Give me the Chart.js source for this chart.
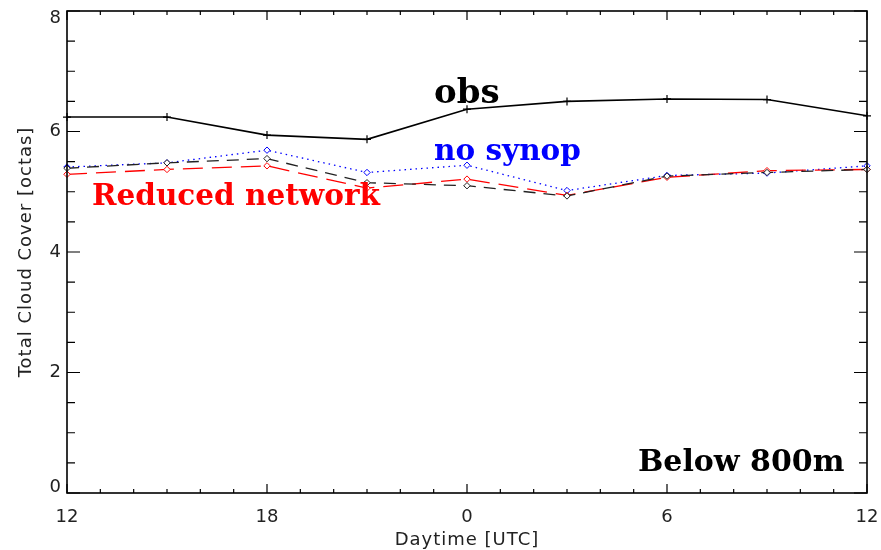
<!DOCTYPE html>
<html>
<head>
<meta charset="utf-8">
<script src="https://cdn.jsdelivr.net/npm/chart.js@4"></script>
<style>
html,body{margin:0;padding:0;background:#fff;}
canvas{display:block;}
</style>
</head>
<body>
<canvas id="c" width="881" height="550"></canvas>
<script>
// ---- data ----
const hours = [12, 15, 18, 21, 24, 27, 30, 33, 36];
const obs = [6.24, 6.24, 5.94, 5.87, 6.37, 6.50, 6.54, 6.53, 6.26];
const noSynop = [5.41, 5.48, 5.69, 5.32, 5.44, 5.02, 5.27, 5.31, 5.43];
const control = [5.39, 5.48, 5.55, 5.15, 5.10, 4.93, 5.26, 5.32, 5.37];
const reduced = [5.29, 5.37, 5.43, 5.06, 5.21, 4.94, 5.24, 5.35, 5.37];

const xTickValues = [12, 18, 24, 30, 36];
const xTickLabels = ['12', '18', '0', '6', '12'];
const yTickValues = [0, 2, 4, 6, 8];
const yTickLabels = ['0', '2', '4', '6', '8'];

const xTitle = 'Daytime [UTC]';
const yTitle = 'Total Cloud Cover [octas]';

const annotations = [
  {text: 'obs', color: '#000', size: 34, x: 434, y: 103},
  {text: 'no synop', color: '#0000ff', size: 29.5, x: 434, y: 160},
  {text: 'Reduced network', color: '#ff0000', size: 29.5, x: 92, y: 205},
  {text: 'Below 800m', color: '#000', size: 30, x: 638, y: 471}
];

const pts = arr => arr.map((v, i) => ({x: hours[i], y: v}));

const axisFont = "18px 'DejaVu Sans'";

const framePlugin = {
  id: 'frame',
  afterDatasetsDraw(chart) {
    const ctx = chart.ctx;
    const a = chart.chartArea;
    const xs = chart.scales.x, ys = chart.scales.y;
    ctx.save();
    ctx.strokeStyle = '#000';
    ctx.lineWidth = 1.6;
    ctx.strokeRect(a.left, a.top, a.right - a.left, a.bottom - a.top);
    ctx.lineWidth = 1.2;
    ctx.beginPath();
    for (let h = 12; h <= 36; h++) {
      const px = xs.getPixelForValue(h);
      const len = (h % 6 === 0) ? 9 : 4;
      ctx.moveTo(px, a.bottom); ctx.lineTo(px, a.bottom - len);
      ctx.moveTo(px, a.top); ctx.lineTo(px, a.top + len);
    }
    for (let k = 0; k <= 16; k++) {
      const v = k * 0.5;
      const py = ys.getPixelForValue(v);
      const len = (k % 4 === 0) ? 13 : 8;
      ctx.moveTo(a.left, py); ctx.lineTo(a.left + len, py);
      ctx.moveTo(a.right, py); ctx.lineTo(a.right - len, py);
    }
    ctx.stroke();

    // tick labels
    ctx.fillStyle = '#222';
    ctx.font = axisFont;
    ctx.textAlign = 'center';
    ctx.textBaseline = 'alphabetic';
    xTickValues.forEach((v, i) => {
      ctx.fillText(xTickLabels[i], xs.getPixelForValue(v), 522);
    });
    ctx.textAlign = 'right';
    ctx.textBaseline = 'middle';
    yTickValues.forEach((v, i) => {
      let py = ys.getPixelForValue(v);
      py = Math.min(Math.max(py, a.top + 7), a.bottom - 6);
      ctx.fillText(yTickLabels[i], 61, py);
    });
    // axis titles
    ctx.letterSpacing = '1px';
    ctx.textAlign = 'center';
    ctx.textBaseline = 'alphabetic';
    ctx.fillText(xTitle, (a.left + a.right) / 2, 545);
    ctx.save();
    ctx.translate(31, 252);
    ctx.rotate(-Math.PI / 2);
    ctx.fillText(yTitle, 0, 0);
    ctx.restore();
    ctx.letterSpacing = '0px';

    // annotations
    ctx.textAlign = 'left';
    ctx.textBaseline = 'alphabetic';
    annotations.forEach(an => {
      ctx.font = "bold " + an.size + "px 'DejaVu Serif'";
      ctx.fillStyle = an.color;
      ctx.fillText(an.text, an.x, an.y);
    });
    ctx.restore();
  }
};

new Chart(document.getElementById('c'), {
  type: 'line',
  data: {
    datasets: [
      {
        label: 'control',
        data: pts(control),
        borderColor: '#222',
        borderWidth: 1.3,
        borderDash: [12, 8],
        pointStyle: 'rectRot',
        pointRadius: 3.2,
        pointBorderWidth: 1,
        pointBorderColor: '#222',
        pointBackgroundColor: '#fff',
        tension: 0,
        clip: false
      },
      {
        label: 'Reduced network',
        data: pts(reduced),
        borderColor: '#ff0000',
        borderWidth: 1.3,
        borderDash: [20, 9],
        pointStyle: 'rectRot',
        pointRadius: 3.2,
        pointBorderWidth: 1,
        pointBorderColor: '#ff0000',
        pointBackgroundColor: '#fff',
        tension: 0,
        clip: false
      },
      {
        label: 'no synop',
        data: pts(noSynop),
        borderColor: '#0000ff',
        borderWidth: 1.3,
        borderDash: [1.5, 4],
        pointStyle: 'rectRot',
        pointRadius: 3.2,
        pointBorderWidth: 1,
        pointBorderColor: '#0000ff',
        pointBackgroundColor: '#fff',
        tension: 0,
        clip: false
      },
      {
        label: 'obs',
        data: pts(obs),
        borderColor: '#000',
        borderWidth: 1.6,
        pointStyle: 'cross',
        pointRadius: 4,
        pointBorderWidth: 1.2,
        pointBorderColor: '#000',
        tension: 0,
        clip: false
      }
    ]
  },
  options: {
    responsive: false,
    animation: false,
    layout: {padding: {left: 0, right: 14, top: 11, bottom: 0}},
    plugins: {legend: {display: false}, tooltip: {enabled: false}, title: {display: false}},
    scales: {
      x: {
        type: 'linear', min: 12, max: 36,
        grid: {display: false, drawTicks: false},
        border: {display: false},
        ticks: {display: false},
        afterFit(s) { s.height = 57; }
      },
      y: {
        type: 'linear', min: 0, max: 8,
        grid: {display: false, drawTicks: false},
        border: {display: false},
        ticks: {display: false},
        afterFit(s) { s.width = 67; }
      }
    }
  },
  plugins: [framePlugin]
});
</script>
</body>
</html>
